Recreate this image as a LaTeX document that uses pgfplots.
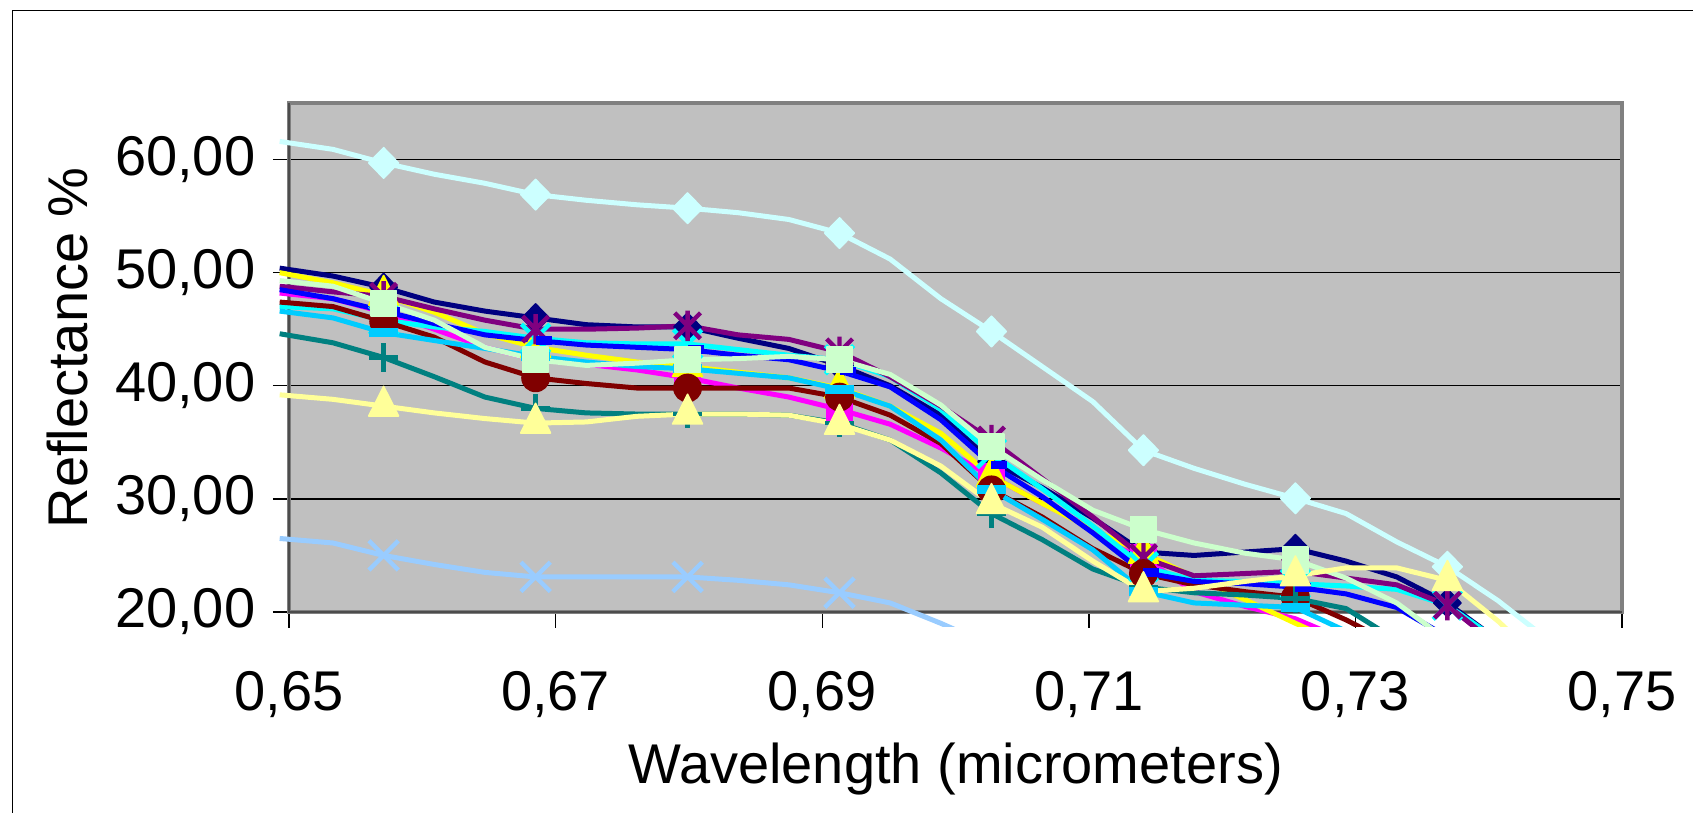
\documentclass[border=0pt]{standalone}
\usepackage{fontspec}
\setmainfont{Liberation Sans}
\usepackage{pgfplots}
\usepackage{pgfplotstable}
\pgfplotsset{compat=1.18}

\definecolor{plotgray}{HTML}{C0C0C0}
\definecolor{bordergray}{HTML}{808080}
\definecolor{xnavy}{HTML}{000080}
\definecolor{xmagenta}{HTML}{FF00FF}
\definecolor{xyellow}{HTML}{FFFF00}
\definecolor{xcyan}{HTML}{00FFFF}
\definecolor{xpurple}{HTML}{800080}
\definecolor{xmaroon}{HTML}{800000}
\definecolor{xteal}{HTML}{008080}
\definecolor{xblue}{HTML}{0000FF}
\definecolor{xsky}{HTML}{00CCFF}
\definecolor{xlcyan}{HTML}{CCFFFF}
\definecolor{xlgreen}{HTML}{CCFFCC}
\definecolor{xlyellow}{HTML}{FFFF99}
\definecolor{xpblue}{HTML}{99CCFF}

% Excel-like star: an x with a vertical stroke
\pgfdeclareplotmark{xstar}{%
  \pgfpathmoveto{\pgfqpoint{0pt}{\pgfplotmarksize}}%
  \pgfpathlineto{\pgfqpoint{0pt}{-\pgfplotmarksize}}%
  \pgfpathmoveto{\pgfqpoint{-.85\pgfplotmarksize}{-.85\pgfplotmarksize}}%
  \pgfpathlineto{\pgfqpoint{.85\pgfplotmarksize}{.85\pgfplotmarksize}}%
  \pgfpathmoveto{\pgfqpoint{-.85\pgfplotmarksize}{.85\pgfplotmarksize}}%
  \pgfpathlineto{\pgfqpoint{.85\pgfplotmarksize}{-.85\pgfplotmarksize}}%
  \pgfusepathqstroke}

% reflectance (%) of 13 samples
\pgfplotstableread{
x      s1   s2   s3   s4   s5   s6   s7   s8   s9   s10   s11  s12  s13
0.6493 50.4 48.2 50.0 47.0 48.8 47.4 44.6 48.5 46.6 61.6  49.3 39.2 26.5
0.6533 49.7 47.7 49.1 46.8 48.3 47.0 43.8 47.7 46.0 60.9  48.8 38.8 26.1
0.6571 48.7 46.5 48.0 45.8 47.9 45.7 42.5 46.6 44.7 59.7  47.3 38.2 25.0
0.6609 47.4 45.0 46.5 45.2 46.8 44.3 40.8 45.5 44.0 58.7  45.8 37.6 24.2
0.6647 46.6 43.4 44.6 44.8 45.8 42.1 39.0 44.5 43.3 57.9  43.4 37.1 23.5
0.6685 46.0 42.3 43.4 44.2 45.0 40.7 38.0 44.0 42.6 56.9  42.3 36.7 23.1
0.6723 45.4 41.9 42.7 43.8 45.0 40.2 37.6 43.6 42.1 56.4  41.8 36.8 23.1
0.6761 45.2 41.4 42.1 43.7 45.1 39.8 37.5 43.4 41.7 56.0  42.0 37.3 23.1
0.6799 45.2 40.7 41.7 43.7 45.3 39.8 37.5 43.2 41.5 55.7  42.3 37.5 23.1
0.6837 44.2 39.8 41.2 43.2 44.5 39.8 37.5 42.7 41.1 55.3  42.4 37.5 22.8
0.6875 43.3 39.0 40.7 42.7 44.1 39.8 37.4 42.3 40.7 54.7  42.6 37.4 22.4
0.6913 41.8 37.9 39.8 42.3 43.0 39.0 36.7 41.3 39.7 53.5  42.3 36.6 21.7
0.6951 40.0 36.6 38.2 40.8 40.8 37.4 35.2 39.9 38.2 51.2  41.0 35.2 20.8
0.6989 37.4 34.5 35.8 37.9 38.2 34.9 32.3 37.0 35.2 47.7  38.3 32.9 19.0
0.7027 33.3 32.0 32.0 34.0 35.2 30.8 28.7 33.0 30.8 44.8  34.6 29.6 17.0
0.7065 31.0 29.6 29.6 30.9 31.8 28.4 26.4 30.2 28.2 41.7  31.7 27.5 nan
0.7103 28.3 27.4 27.3 27.6 28.4 25.6 23.8 27.0 25.5 38.6  29.0 24.5 nan
0.7141 25.3 24.8 25.2 24.0 24.8 23.4 22.2 23.5 21.8 34.3  27.3 21.8 nan
0.7179 25.0 21.8 23.1 22.8 23.2 22.4 21.7 22.7 20.8 32.7  26.1 22.1 nan
0.7217 25.3 20.5 21.1 22.7 23.4 21.8 21.5 22.5 20.6 31.3  25.2 22.7 nan
0.7255 25.6 19.4 19.0 22.5 23.6 21.3 21.2 22.2 20.4 30.05 24.6 23.2 nan
0.7293 24.5 17.5 17.0 22.3 23.0 19.3 20.3 21.6 18.3 28.7  23.0 23.9 nan
0.7331 23.1 nan  nan  22.0 22.4 17.0 17.5 20.4 nan  26.2  20.8 23.9 nan
0.7369 20.8 nan  nan  20.6 20.6 nan  nan  17.8 nan  24.0  17.5 22.8 nan
0.7407 17.5 nan  nan  17.5 17.0 nan  nan  nan  nan  21.0  nan  19.2 nan
0.7445 nan  nan  nan  nan  nan  nan  nan  nan  nan  17.5  nan  15.0 nan
}\refl

\begin{document}
\begin{tikzpicture}
\useasboundingbox (0,0) rectangle (423.25pt,203.25pt);
\draw[line width=0.45pt] (3.1pt,-2pt) -- (3.1pt,200.6pt) -- (425pt,200.6pt);
\begin{axis}[
    at={(72.25pt,50.25pt)}, anchor=south west,
    scale only axis, width=333.25pt, height=127.25pt,
    xmin=0.65, xmax=0.75, ymin=20, ymax=65,
    clip=false,
    xtick={0.65,0.67,0.69,0.71,0.73,0.75},
    ytick={20,30,40,50,60},
    tick pos=left, tick align=outside, major tick length=4pt,
    tick style={black, line width=0.35pt},
    ymajorgrids, grid style={black, line width=0.35pt},
    axis background/.style={fill=plotgray},
    axis line style={draw=bordergray, line width=0.9pt},
    ticklabel style={font=\fontsize{14}{16}\selectfont, inner sep=0pt},
    xticklabel style={yshift=-10.75pt},
    yticklabel style={xshift=-4.25pt},
    /pgf/number format/assume math mode=true,
    /pgf/number format/use comma,
    /pgf/number format/fixed,
    /pgf/number format/fixed zerofill,
    /pgf/number format/precision=2,
    xlabel={Wavelength (micrometers)},
    ylabel={Reflectance \%},
    label style={font=\fontsize{14}{16}\selectfont},
    xlabel style={at={(axis description cs:0.5,-0.308)}, anchor=center},
    ylabel style={at={(axis description cs:-0.1665,0.519)}, anchor=center},
    every axis plot/.append style={line width=1.25pt, line join=round},
]
\draw[black!70, line width=0.6pt] (axis cs:0.65,65) -- (axis cs:0.65,20) -- (axis cs:0.75,20);
\begin{scope}
\clip (axis cs:0.64,18.7) rectangle (axis cs:0.76,66);
\addplot[xnavy, mark=diamond*, mark size=3.5pt, mark indices={3,6,9,12,15,18,21,24},
  mark options={xscale=1.3, line width=0.4pt}] table[x=x, y=s1] {\refl};
\addplot[xmagenta, mark=square*, mark size=3.2pt, mark indices={3,6,9,12,15,18},
  mark options={line width=0.4pt}] table[x=x, y=s2] {\refl};
\addplot[xyellow, mark=triangle*, mark size=4.3pt, mark indices={3,6,9,12,15,18},
  mark options={yscale=1.15, line width=0.4pt}] table[x=x, y=s3] {\refl};
\addplot[xcyan, mark=x, mark size=5pt, mark indices={3,6,9,12,15,18,21,24},
  mark options={line width=1.1pt}] table[x=x, y=s4] {\refl};
\addplot[xpurple, mark=xstar, mark size=3.8pt, mark indices={3,6,9,12,15,18,21,24},
  mark options={line width=1.1pt}] table[x=x, y=s5] {\refl};
\addplot[xmaroon, mark=*, mark size=3.4pt, mark indices={3,6,9,12,15,18,21},
  mark options={line width=0.4pt}] table[x=x, y=s6] {\refl};
\addplot[xteal, mark=+, mark size=3.6pt, mark indices={3,6,9,12,15,18,21},
  mark options={line width=1.1pt}] table[x=x, y=s7] {\refl};
\addplot[xblue, mark=-, mark size=2pt, mark indices={3,6,9,12,15,18,21},
  mark options={line width=2.2pt, xshift=2pt}] table[x=x, y=s8] {\refl};
\addplot[xsky, mark=-, mark size=3.6pt, mark indices={3,6,9,12,15,18,21},
  mark options={line width=2.2pt}] table[x=x, y=s9] {\refl};
\addplot[xlcyan, mark=diamond*, mark size=3.8pt, mark indices={3,6,9,12,15,18,21,24},
  mark options={xscale=1.3, line width=0.4pt}] table[x=x, y=s10] {\refl};
\addplot[xlgreen, mark=square*, mark size=3.2pt, mark indices={3,6,9,12,15,18,21},
  mark options={line width=0.4pt}] table[x=x, y=s11] {\refl};
\addplot[xlyellow, mark=triangle*, mark size=4.3pt, mark indices={3,6,9,12,15,18,21,24},
  mark options={yscale=1.15, line width=0.4pt}] table[x=x, y=s12] {\refl};
\addplot[xpblue, mark=x, mark size=5.2pt, mark indices={3,6,9,12},
  mark options={line width=1.1pt}] table[x=x, y=s13] {\refl};
\end{scope}
\end{axis}
\end{tikzpicture}
\end{document}
